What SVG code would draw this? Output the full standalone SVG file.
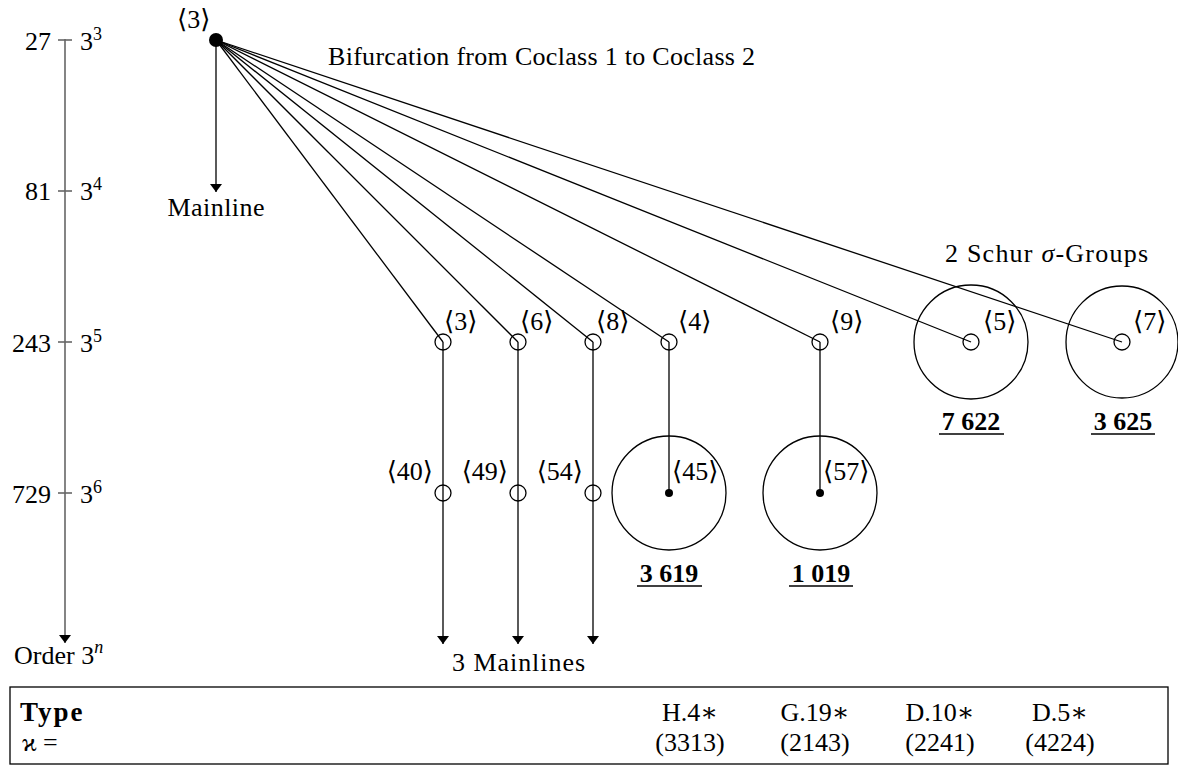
<svg xmlns="http://www.w3.org/2000/svg" width="1178" height="773" viewBox="0 0 1178 773" font-family="'Liberation Serif', 'DejaVu Serif', serif">
<defs>
<marker id="arr" viewBox="0 0 8 12" refX="8" refY="6" markerWidth="8" markerHeight="12" markerUnits="userSpaceOnUse" orient="auto">
<path d="M0,0 L8,6 L0,12 Z" fill="#000"/>
</marker>
</defs>
<style>
text{font-family:'Liberation Serif','DejaVu Serif',serif;font-size:26px;fill:#000}
.b{font-weight:bold}
.sup{font-size:18px}
.e{stroke:#000;stroke-width:1.3;fill:none}
.ax{stroke:#666;stroke-width:1.6;fill:none}
.n{stroke:#000;stroke-width:1.3;fill:none}
.big{stroke:#000;stroke-width:1.3;fill:none}
.ul{stroke:#000;stroke-width:1.6}
.m{text-anchor:middle}
.r{text-anchor:end}
</style>
<rect width="1178" height="773" fill="#fff"/>

<g id="axis">
<line class="ax" x1="65" y1="39" x2="65" y2="643" marker-end="url(#arr)"/>
<line class="ax" x1="58" y1="40" x2="72" y2="40"/>
<line class="ax" x1="58" y1="191" x2="72" y2="191"/>
<line class="ax" x1="58" y1="342" x2="72" y2="342"/>
<line class="ax" x1="58" y1="493" x2="72" y2="493"/>
<text class="r" x="51" y="50">27</text>
<text x="80" y="50">3<tspan class="sup" dy="-10">3</tspan></text>
<text class="r" x="51" y="200">81</text>
<text x="80" y="200">3<tspan class="sup" dy="-10">4</tspan></text>
<text class="r" x="51" y="352">243</text>
<text x="80" y="352">3<tspan class="sup" dy="-10">5</tspan></text>
<text class="r" x="51" y="503">729</text>
<text x="80" y="503">3<tspan class="sup" dy="-10">6</tspan></text>
<text x="14" y="664">Order 3<tspan class="sup" dy="-11" font-style="italic">n</tspan></text>
</g>

<g id="connectors">
<line class="e" x1="216" y1="40" x2="216" y2="192" marker-end="url(#arr)"/>
<line class="e" x1="216" y1="40" x2="443" y2="342"/>
<line class="e" x1="216" y1="40" x2="518" y2="342"/>
<line class="e" x1="216" y1="40" x2="593" y2="342"/>
<line class="e" x1="216" y1="40" x2="669" y2="342"/>
<line class="e" x1="216" y1="40" x2="820" y2="342"/>
<line class="e" x1="216" y1="40" x2="971" y2="342"/>
<line class="e" x1="216" y1="40" x2="1122" y2="342"/>
<line class="e" x1="443" y1="342" x2="443" y2="644" marker-end="url(#arr)"/>
<line class="e" x1="518" y1="342" x2="518" y2="644" marker-end="url(#arr)"/>
<line class="e" x1="593" y1="342" x2="593" y2="644" marker-end="url(#arr)"/>
<line class="e" x1="669" y1="342" x2="669" y2="493"/>
<line class="e" x1="820" y1="342" x2="820" y2="493"/>
</g>

<g id="root">
<circle cx="216" cy="40" r="7" fill="#000"/>
<text x="177" y="28">⟨3⟩</text>
</g>
<text id="mainline" class="m" x="216" y="216" textLength="97">Mainline</text>
<text id="title" x="328" y="65" textLength="427">Bifurcation from Coclass 1 to Coclass 2</text>
<text id="schur" x="945" y="262" textLength="203">2 Schur <tspan font-style="italic">σ</tspan>-Groups</text>
<text id="mainlines3" x="452" y="671" textLength="133">3 Mainlines</text>

<g id="n5-3"><circle class="n" cx="443" cy="342" r="8"/><text x="444" y="330">⟨3⟩</text></g>
<g id="n5-6"><circle class="n" cx="518" cy="342" r="8"/><text x="520" y="330">⟨6⟩</text></g>
<g id="n5-8"><circle class="n" cx="593" cy="342" r="8"/><text x="596" y="330">⟨8⟩</text></g>
<g id="n5-4"><circle class="n" cx="669" cy="342" r="8"/><text x="678" y="330">⟨4⟩</text></g>
<g id="n5-9"><circle class="n" cx="820" cy="342" r="8"/><text x="830" y="330">⟨9⟩</text></g>
<g id="n5-5">
<circle class="big" cx="971" cy="342" r="57"/>
<circle class="n" cx="971" cy="342" r="8"/><text x="983" y="330">⟨5⟩</text>
<text class="b m" x="971" y="430">7 622</text>
<line class="ul" x1="939" y1="434" x2="1004" y2="434"/>
</g>
<g id="n5-7">
<circle class="big" cx="1122" cy="342" r="56"/>
<circle class="n" cx="1122" cy="342" r="8"/><text x="1133" y="330">⟨7⟩</text>
<text class="b m" x="1123" y="430">3 625</text>
<line class="ul" x1="1091" y1="434" x2="1155" y2="434"/>
</g>

<g id="n6-40"><circle class="n" cx="443" cy="493" r="8"/><text class="r" x="433" y="480">⟨40⟩</text></g>
<g id="n6-49"><circle class="n" cx="518" cy="493" r="8"/><text class="r" x="508" y="480">⟨49⟩</text></g>
<g id="n6-54"><circle class="n" cx="593" cy="493" r="8"/><text class="r" x="583" y="480">⟨54⟩</text></g>
<g id="n6-45">
<circle class="big" cx="669" cy="493" r="57"/>
<circle cx="669" cy="493" r="4" fill="#000"/><text x="672" y="480">⟨45⟩</text>
<text class="b m" x="669" y="582">3 619</text>
<line class="ul" x1="637" y1="586" x2="702" y2="586"/>
</g>
<g id="n6-57">
<circle class="big" cx="820" cy="493" r="57"/>
<circle cx="820" cy="493" r="4" fill="#000"/><text x="823" y="480">⟨57⟩</text>
<text class="b m" x="821" y="582">1 019</text>
<line class="ul" x1="789" y1="586" x2="853" y2="586"/>
</g>

<g id="table">
<rect x="10" y="687" width="1158" height="77" fill="none" stroke="#000" stroke-width="1.3"/>
<text class="b" x="20" y="721" style="font-size:27px;letter-spacing:2px">Type</text>
<text x="22" y="751">ϰ =</text>
<text class="m" x="690" y="721">H.4∗</text>
<text class="m" x="815" y="721">G.19∗</text>
<text class="m" x="940" y="721">D.10∗</text>
<text class="m" x="1060" y="721">D.5∗</text>
<text class="m" x="690" y="751">(3313)</text>
<text class="m" x="815" y="751">(2143)</text>
<text class="m" x="940" y="751">(2241)</text>
<text class="m" x="1060" y="751">(4224)</text>
</g>
</svg>
